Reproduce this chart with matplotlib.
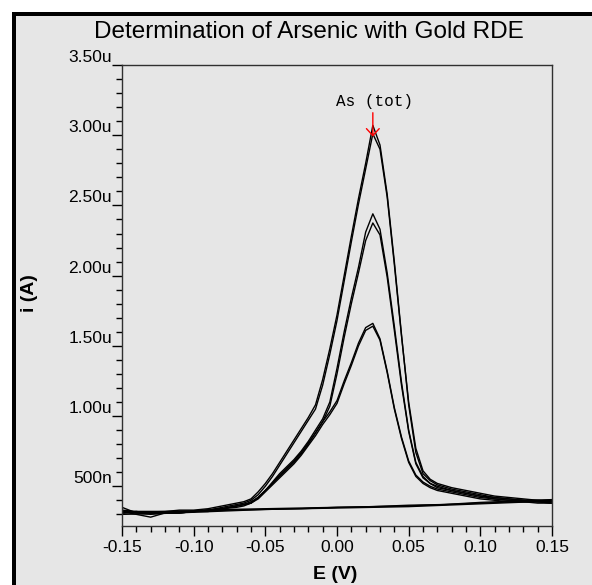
import numpy as np
import matplotlib
matplotlib.use("Agg")
import matplotlib.pyplot as plt
from matplotlib.patches import Rectangle
from matplotlib.ticker import FixedLocator, MultipleLocator

plt.rcParams['font.family'] = ['Liberation Sans', 'DejaVu Sans']

# potential grid (V) shared by the forward scans
E = [-0.15, -0.14, -0.13, -0.12, -0.11, -0.10, -0.09, -0.08, -0.07,
     -0.065, -0.06, -0.055, -0.05, -0.045, -0.04, -0.035, -0.03, -0.025,
     -0.02, -0.015, -0.01, -0.005, 0.0, 0.005, 0.01, 0.015, 0.02, 0.025,
     0.03, 0.035, 0.04, 0.045, 0.05, 0.055, 0.06, 0.065, 0.07,
     0.08, 0.09, 0.10, 0.11, 0.12, 0.13, 0.14, 0.15]

# currents in uA
top1 = [0.33, 0.32, 0.32, 0.32, 0.33, 0.33, 0.34, 0.36, 0.38,
        0.39, 0.41, 0.46, 0.52, 0.59, 0.67, 0.75, 0.83, 0.91, 0.99, 1.08, 1.26, 1.48, 1.72, 2.00,
        2.28, 2.55, 2.80, 3.07, 2.93, 2.58, 2.10, 1.58, 1.08, 0.74, 0.59, 0.54, 0.51,
        0.48, 0.46, 0.44, 0.42, 0.41, 0.40, 0.40, 0.40]
top2 = [0.31, 0.32, 0.31, 0.31, 0.32, 0.32, 0.33, 0.35, 0.37,
        0.38, 0.40, 0.44, 0.50, 0.57, 0.65, 0.73, 0.81, 0.89, 0.97, 1.05, 1.22, 1.44, 1.68, 1.96,
        2.24, 2.51, 2.76, 3.01, 2.90, 2.56, 2.08, 1.57, 1.10, 0.77, 0.61, 0.55, 0.52,
        0.49, 0.47, 0.45, 0.43, 0.42, 0.41, 0.40, 0.39]
mid1 = [0.32, 0.31, 0.30, 0.31, 0.32, 0.32, 0.33, 0.34, 0.36,
        0.37, 0.38, 0.42, 0.47, 0.53, 0.59, 0.64, 0.69, 0.75, 0.82, 0.90, 0.98, 1.10, 1.34, 1.60,
        1.84, 2.06, 2.31, 2.44, 2.33, 2.02, 1.64, 1.24, 0.90, 0.67, 0.57, 0.52, 0.50,
        0.47, 0.45, 0.43, 0.42, 0.41, 0.40, 0.39, 0.39]
mid2 = [0.31, 0.32, 0.31, 0.31, 0.31, 0.32, 0.33, 0.34, 0.36,
        0.37, 0.39, 0.42, 0.47, 0.52, 0.58, 0.63, 0.68, 0.74, 0.81, 0.88, 0.96, 1.07, 1.30, 1.56,
        1.80, 2.02, 2.25, 2.375, 2.29, 1.99, 1.61, 1.22, 0.89, 0.66, 0.56, 0.52, 0.49,
        0.47, 0.45, 0.43, 0.41, 0.40, 0.40, 0.39, 0.38]
low1 = [0.32, 0.30, 0.28, 0.31, 0.31, 0.32, 0.33, 0.34, 0.36,
        0.37, 0.38, 0.42, 0.47, 0.52, 0.57, 0.62, 0.67, 0.73, 0.80, 0.88, 0.96, 1.03, 1.11, 1.25,
        1.38, 1.52, 1.63, 1.66, 1.55, 1.32, 1.06, 0.85, 0.68, 0.58, 0.53, 0.50, 0.48,
        0.46, 0.44, 0.42, 0.41, 0.40, 0.39, 0.39, 0.38]
low2 = [0.35, 0.31, 0.31, 0.31, 0.31, 0.32, 0.32, 0.34, 0.35,
        0.36, 0.38, 0.41, 0.46, 0.51, 0.56, 0.61, 0.66, 0.72, 0.79, 0.86, 0.94, 1.01, 1.09, 1.23,
        1.36, 1.50, 1.61, 1.64, 1.54, 1.31, 1.05, 0.84, 0.67, 0.57, 0.52, 0.49, 0.47,
        0.45, 0.43, 0.41, 0.40, 0.39, 0.39, 0.38, 0.38]

# return scans (flat baselines)
E_back = [-0.15, -0.125, -0.10, -0.075, -0.05, -0.025, 0.0, 0.025, 0.05, 0.075, 0.10, 0.125, 0.15]
back1 = [0.31, 0.315, 0.32, 0.33, 0.335, 0.34, 0.345, 0.35, 0.355, 0.365, 0.375, 0.385, 0.395]
back2 = [0.30, 0.305, 0.315, 0.325, 0.335, 0.34, 0.35, 0.355, 0.36, 0.37, 0.38, 0.39, 0.40]
back3 = [0.32, 0.32, 0.325, 0.335, 0.34, 0.345, 0.35, 0.355, 0.365, 0.37, 0.385, 0.395, 0.405]

yticks = [0.5, 1.0, 1.5, 2.0, 2.5, 3.0, 3.5]
ylabels = ['500n', '1.00u', '1.50u', '2.00u', '2.50u', '3.00u', '3.50u']
xticks = [-0.15, -0.10, -0.05, 0.00, 0.05, 0.10, 0.15]
xlabels = ['-0.15', '-0.10', '-0.05', '0.00', '0.05', '0.10', '0.15']

W, H = 592, 585
fig = plt.figure(figsize=(W / 100, H / 100), dpi=100, facecolor='white')
# grey panel with a black edge on the left and top only
fig.add_artist(Rectangle((12 / W, 0), 2, 2, transform=fig.transFigure,
                         facecolor='#e6e6e6', edgecolor='none', zorder=-2))
fig.add_artist(Rectangle((12 / W, 0), 4 / W, 1 - 12 / H, transform=fig.transFigure,
                         facecolor='black', edgecolor='none', zorder=-1))
fig.add_artist(Rectangle((12 / W, 1 - 16 / H), 2, 4 / H, transform=fig.transFigure,
                         facecolor='black', edgecolor='none', zorder=-1))
fig.add_artist(Rectangle((0, 1 - 12 / H), 2, 2, transform=fig.transFigure,
                         facecolor='white', edgecolor='none', zorder=-1))

ax = fig.add_axes([122 / W, 1 - 526 / H, 430 / W, 461 / H])
ax.set_facecolor('#e6e6e6')

for y in [top1, top2, mid1, mid2, low1, low2]:
    ax.plot(E, y, color='black', lw=1.0)
for y in [back1, back2, back3]:
    ax.plot(E_back, y, color='black', lw=1.0)

ax.set_xlim(-0.15, 0.15)
ax.set_ylim(0.217, 3.5)

for s in ax.spines.values():
    s.set_color('#303030')
    s.set_linewidth(1.0)

ax.xaxis.set_major_locator(FixedLocator(xticks))
ax.set_xticklabels(xlabels)
ax.xaxis.set_minor_locator(MultipleLocator(0.01))
ax.yaxis.set_major_locator(FixedLocator(yticks))
ax.set_yticklabels(ylabels)
ax.yaxis.set_minor_locator(MultipleLocator(0.1))
ax.tick_params(which='major', direction='out', length=7.2, width=1.0, color='black', labelsize=12.5)
ax.tick_params(which='minor', direction='out', length=4.3, width=1.0, color='black')
ax.tick_params(axis='y', which='major', pad=0)
ax.tick_params(axis='x', which='major', pad=3)
for lab in ax.get_yticklabels():
    lab.set_verticalalignment('bottom')

# peak marker
ax.annotate('', xy=(0.025, 2.99), xytext=(0.025, 3.16),
            arrowprops=dict(arrowstyle='->, head_length=0.25, head_width=0.23',
                            color='red', lw=1.0, shrinkA=0, shrinkB=0, mutation_scale=20))
ax.text(0.0265, 3.24, 'As (tot)', family='Liberation Mono', fontsize=11.5,
        ha='center', va='center', color='black')

fig.text(309 / W, 1 - 38 / H, 'Determination of Arsenic with Gold RDE',
         fontsize=17.5, ha='center', va='baseline')
fig.text(29 / W, 1 - 293 / H, 'i (A)', fontsize=14, fontweight='bold',
         rotation=90, ha='center', va='center')
fig.text(335 / W, 1 - 566 / H, 'E (V)', fontsize=14, fontweight='bold',
         ha='center', va='top')

fig.savefig('out.png', dpi=100, facecolor=fig.get_facecolor())
